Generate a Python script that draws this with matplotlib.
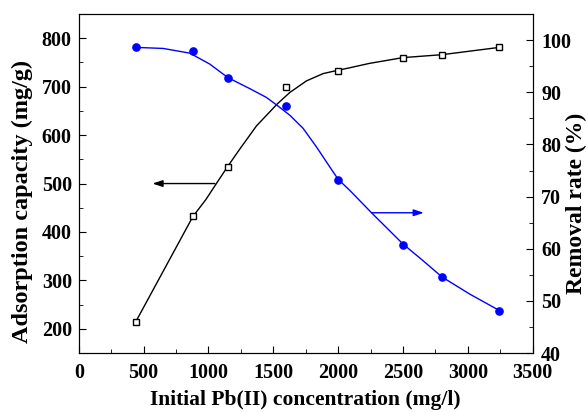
import numpy as np
import matplotlib
matplotlib.use('Agg')
from matplotlib import pyplot as plt
from matplotlib.ticker import MultipleLocator

plt.rcParams['font.family'] = 'Liberation Serif'
plt.rcParams['font.weight'] = 'bold'

# measured points
conc = [440, 880, 1150, 1600, 2000, 2500, 2800, 3240]
capacity = [215, 432, 535, 700, 733, 760, 766, 781]
removal = [98.6, 98.0, 92.8, 87.3, 73.2, 60.8, 54.6, 48.1]

# fitted curves
fit_x_cap = [440, 880, 980, 1056, 1150, 1241, 1370, 1529, 1627, 1756, 1884, 2000, 2089, 2240, 2500, 2800, 3240]
fit_cap = [215, 432, 467, 498, 536, 571, 619, 664, 688, 712, 727, 734, 739, 748, 760, 766, 781]
fit_x_rem = [440, 650, 856, 1010, 1150, 1318, 1447, 1529, 1627, 1729, 1833, 1935, 2000, 2089,
             2257, 2500, 2655, 2800, 3015, 3240]
fit_rem = [98.6, 98.4, 97.5, 95.4, 92.8, 90.7, 89.0, 87.5, 85.6, 83.1, 79.5, 75.7, 73.3, 71.2,
           66.9, 60.9, 57.7, 54.6, 51.3, 48.2]

fig = plt.figure(figsize=(5.88, 4.12), dpi=100)
ax = fig.add_axes([0.134, 0.143, 0.772, 0.823])
ax2 = ax.twinx()

ax.plot(fit_x_cap, fit_cap, color='black', lw=1.0, solid_joinstyle='round')
ax.plot(conc, capacity, 's', mfc='white', mec='black', ms=4.2, mew=1.0)
ax2.plot(fit_x_rem, fit_rem, color='blue', lw=1.0, solid_joinstyle='round')
ax2.plot(conc, removal, 'o', color='blue', ms=5.2)

arrow = '-|>,head_length=0.6,head_width=0.2'
ax.annotate('', xy=(568, 500), xytext=(1049, 500),
            arrowprops=dict(arrowstyle=arrow, color='black', lw=1.0, mutation_scale=10,
                            shrinkA=0, shrinkB=0))
ax2.annotate('', xy=(2660, 66.9), xytext=(2257, 66.9),
             arrowprops=dict(arrowstyle=arrow, color='blue', lw=1.0, mutation_scale=10,
                             shrinkA=0, shrinkB=0))

ax.set_xlim(0, 3500)
ax.set_ylim(150, 850)
ax2.set_ylim(40, 105)

ax.xaxis.set_major_locator(MultipleLocator(500))
ax.xaxis.set_minor_locator(MultipleLocator(250))
ax.yaxis.set_major_locator(MultipleLocator(100))
ax.yaxis.set_minor_locator(MultipleLocator(50))
ax2.set_yticks([40, 50, 60, 70, 80, 90, 100])
ax2.yaxis.set_minor_locator(MultipleLocator(5))

ax.tick_params(which='both', direction='in', top=False, right=False, labelsize=14.5)
ax.tick_params(axis='x', which='major', pad=7)
ax.tick_params(axis='y', which='major', pad=5)
ax.tick_params(which='major', length=5)
ax.tick_params(which='minor', length=3)
ax2.tick_params(which='both', direction='in', labelsize=14.5)
ax2.tick_params(which='major', length=5, pad=6)
ax2.tick_params(which='minor', length=3)

ax.set_xlabel('Initial Pb(II) concentration (mg/l)', fontsize=15.5, fontweight='bold')
ax.set_ylabel('Adsorption capacity (mg/g)', fontsize=17.5, fontweight='bold')
ax2.set_ylabel('Removal rate (%)', fontsize=17, fontweight='bold')
ax.xaxis.set_label_coords(0.5, -0.11)
ax.yaxis.set_label_coords(-0.101, 0.446)
ax2.yaxis.set_label_coords(1.072, 0.441)

fig.savefig('out.png', dpi=100)
